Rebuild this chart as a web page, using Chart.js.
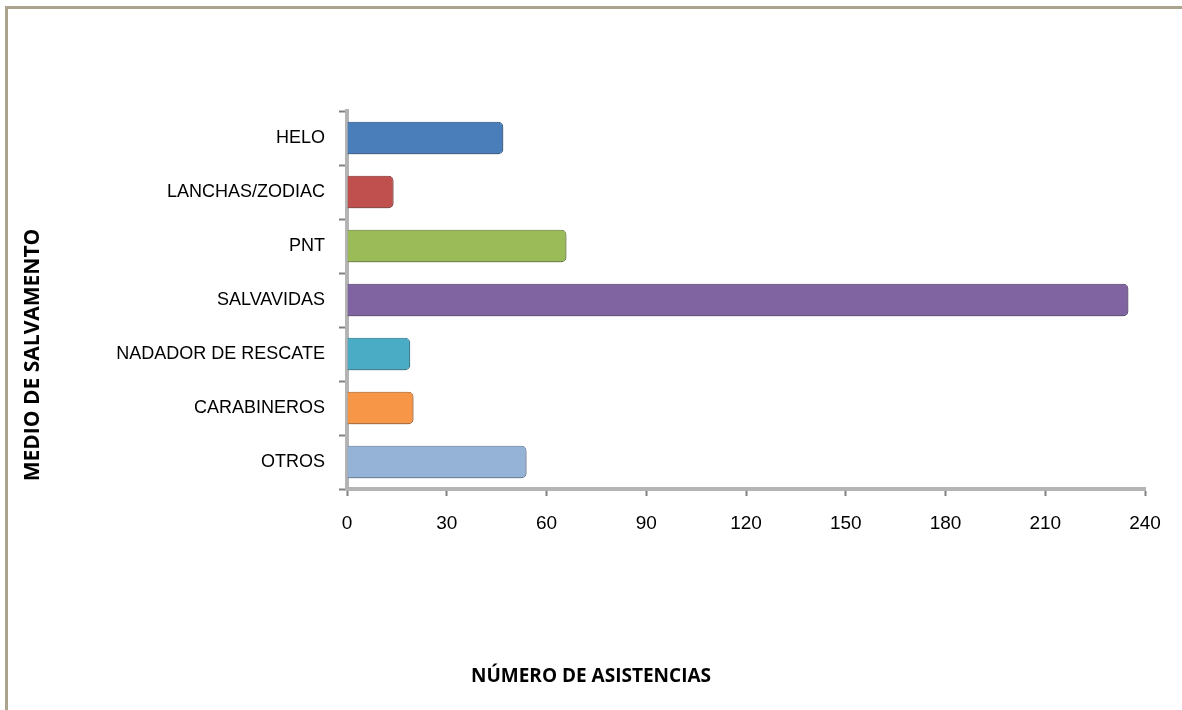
<!DOCTYPE html>
<html lang="es">
<head>
<meta charset="utf-8">
<title>Medio de salvamento</title>
<script src="https://cdn.jsdelivr.net/npm/chart.js@4.4.1/dist/chart.umd.min.js"></script>
<style>
  html, body { margin: 0; padding: 0; background: #fff; }
  #marco {
    position: absolute; left: 0; top: 0; width: 1182px; height: 710px; overflow: hidden;
  }
  #borde {
    position: absolute; left: 5px; top: 6px; width: 1300px; height: 800px;
    border-left: 3px solid #aaa38e; border-top: 3px solid #aaa38e;
  }
  canvas { position: absolute; left: 0; top: 0; }
</style>
</head>
<body>
<div id="marco">
  <div id="borde"></div>
  <canvas id="GraficaCanvas" width="1182" height="710"></canvas>
</div>
<script>
const categorias = ["HELO", "LANCHAS/ZODIAC", "PNT", "SALVAVIDAS", "NADADOR DE RESCATE", "CARABINEROS", "OTROS"];
const asistencias = [47, 14, 66, 235, 19, 20, 54];
const ticksX = [0, 30, 60, 90, 120, 150, 180, 210, 240];

// colores de cada barra: arriba, centro, abajo y borde
const colorArriba = ["#5b95de", "#d56663", "#b0cf74", "#9479b8", "#6cc2d9", "#fbaa62", "#aac6e8"];
const colorCentro = ["#4a7ebb", "#c0504d", "#9bbb59", "#8064a2", "#4bacc6", "#f79646", "#95b3d7"];
const colorAbajo = ["#33649f", "#a33e3b", "#7f9c45", "#654d86", "#3690a8", "#d9772a", "#7b9bc2"];
const colorBorde = ["#2c5789", "#8e3533", "#6e873b", "#574274", "#2f7d92", "#bd6624", "#6a86a8"];

const fuenteEtiquetas = "'Liberation Sans', Arial, sans-serif";
const fuenteTitulos = "'Open Sans', 'DejaVu Sans', sans-serif";

function rellenoBarra(context) {
  const chart = context.chart;
  const i = context.dataIndex;
  const el = context.element;
  if (!chart.chartArea || !el || el.height === undefined) return colorCentro[i];
  const top = el.y - el.height / 2;
  const bottom = el.y + el.height / 2;
  if (!isFinite(top) || !isFinite(bottom)) return colorCentro[i];
  const g = chart.ctx.createLinearGradient(0, top, 0, bottom);
  g.addColorStop(0, colorArriba[i]);
  g.addColorStop(0.5, colorCentro[i]);
  g.addColorStop(1, colorAbajo[i]);
  return g;
}

// sombra suave bajo las barras
const sombraBarras = {
  id: "sombraBarras",
  beforeDatasetsDraw(chart) {
    const ctx = chart.ctx;
    ctx.save();
    ctx.shadowColor = "rgba(0,0,0,0.35)";
    ctx.shadowBlur = 4;
    ctx.shadowOffsetX = 1;
    ctx.shadowOffsetY = 2;
  },
  afterDatasetsDraw(chart) {
    chart.ctx.restore();
  },
};

// títulos de los ejes centrados en el lienzo
const titulosEjes = {
  id: "titulosEjes",
  afterDraw(chart) {
    const ctx = chart.ctx;
    ctx.save();
    ctx.fillStyle = "#000";
    ctx.textAlign = "center";
    ctx.textBaseline = "middle";
    ctx.font = "bold 19px " + fuenteTitulos;
    ctx.fillText("NÚMERO DE ASISTENCIAS", chart.width / 2, 677);
    ctx.font = "bold 21px " + fuenteTitulos;
    ctx.translate(33, chart.height / 2);
    ctx.rotate(-Math.PI / 2);
    ctx.fillText("MEDIO DE SALVAMENTO", 0, 0);
    ctx.restore();
  },
};

const ctx = document.getElementById("GraficaCanvas").getContext("2d");

new Chart(ctx, {
  type: "bar",
  data: {
    labels: categorias,
    datasets: [
      {
        label: "Asistencias",
        data: asistencias,
        backgroundColor: rellenoBarra,
        borderColor: colorBorde,
        borderWidth: 1,
        borderRadius: { topRight: 5, bottomRight: 5 },
        borderSkipped: "start",
        barPercentage: 0.6,
        categoryPercentage: 1,
      },
    ],
  },
  options: {
    indexAxis: "y",
    responsive: false,
    animation: false,
    layout: { padding: { top: 111, right: 37, bottom: 161, left: 0 } },
    plugins: {
      legend: { display: false },
      tooltip: { enabled: false },
    },
    scales: {
      x: {
        type: "linear",
        min: 0,
        max: 240,
        afterBuildTicks(scale) {
          scale.ticks = ticksX.map((v) => ({ value: v }));
        },
        afterFit(scale) {
          scale.height = 60;
        },
        border: { display: true, color: "#b4b4b4", width: 4 },
        grid: {
          drawOnChartArea: false,
          drawTicks: true,
          tickLength: 7,
          tickColor: "#808080",
          tickWidth: 2,
        },
        ticks: {
          padding: 16,
          color: "#000",
          font: { family: fuenteEtiquetas, size: 19 },
        },
      },
      y: {
        afterFit(scale) {
          scale.width = 347;
        },
        border: { display: true, color: "#b4b4b4", width: 4 },
        grid: {
          offset: true,
          drawOnChartArea: false,
          drawTicks: true,
          tickLength: 8,
          tickColor: "#808080",
          tickWidth: 2,
        },
        ticks: {
          padding: 14,
          color: "#000",
          font: { family: fuenteEtiquetas, size: 18 },
        },
      },
    },
  },
  plugins: [sombraBarras, titulosEjes],
});
</script>
</body>
</html>
